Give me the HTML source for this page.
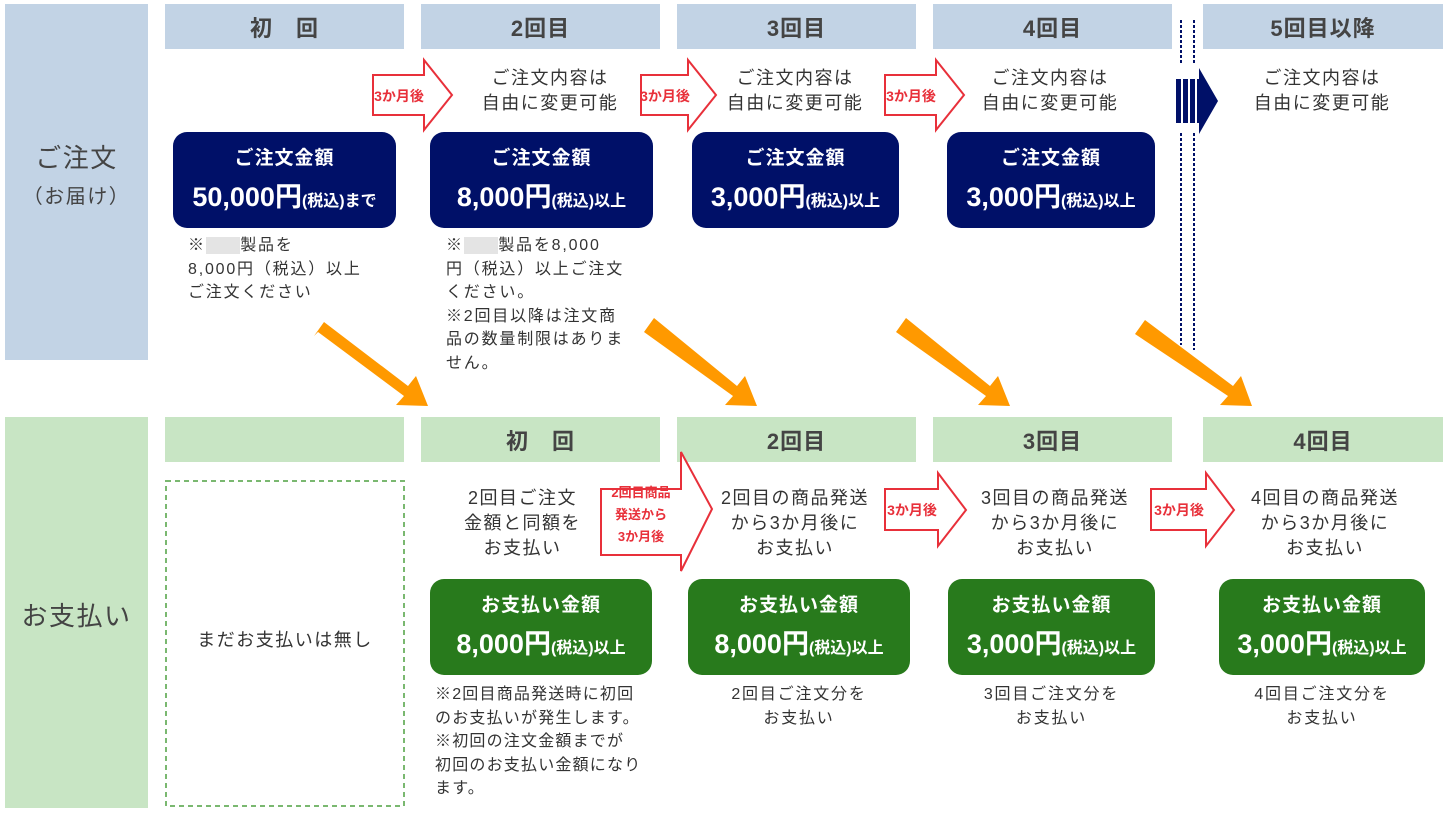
<!DOCTYPE html>
<html><head><meta charset="utf-8"><style>
*{margin:0;padding:0;box-sizing:border-box}
body{width:1454px;height:818px;background:#fff;position:relative;overflow:hidden;font-family:"Liberation Sans","Noto Sans CJK JP",sans-serif;color:#333}
.a{position:absolute}
.hb{background:#c2d3e5;height:45px;top:4px;font-size:22px;font-weight:bold;color:#444;display:flex;align-items:center;justify-content:center;letter-spacing:1px}
.hg{background:#c8e5c4;height:45px;top:417px;font-size:22px;font-weight:bold;color:#444;display:flex;align-items:center;justify-content:center;letter-spacing:1px}
.nb{background:#001068;border-radius:14px;color:#fff;text-align:center;font-weight:bold;top:132px;height:96px}
.gb{background:#287a1c;border-radius:14px;color:#fff;text-align:center;font-weight:bold;top:579px;height:96px}
.t1{font-size:19px;margin-top:15px;line-height:24px;letter-spacing:1px}
.t2{font-size:27px;margin-top:10px;line-height:32px;white-space:nowrap}
.t2 small{font-size:16px}
.c{text-align:center;font-size:18px;line-height:25px;color:#333;letter-spacing:1.5px}
.n{font-size:16px;line-height:23.5px;color:#333;letter-spacing:1.8px}
.r{font-size:14px;font-weight:bold;color:#e8303a;text-align:center;white-space:nowrap}
</style></head><body>
<div class="a" style="left:5px;top:4px;width:143px;height:356px;background:#c2d3e5"></div>
<div class="a c" style="left:5px;top:140px;width:143px;font-size:26px;line-height:36px;color:#444">ご注文<br><span style="font-size:20px">（お届け）</span></div>
<div class="a" style="left:5px;top:417px;width:143px;height:391px;background:#c8e5c4"></div>
<div class="a c" style="left:5px;top:598px;width:143px;font-size:26px;color:#444;line-height:36px">お支払い</div>

<div class="a hb" style="left:165px;width:239px">初　回</div>
<div class="a hb" style="left:421px;width:239px">2回目</div>
<div class="a hb" style="left:677px;width:239px">3回目</div>
<div class="a hb" style="left:933px;width:239px">4回目</div>
<div class="a hb" style="left:1203px;width:240px">5回目以降</div>

<div class="a hg" style="left:165px;width:239px"></div>
<div class="a hg" style="left:421px;width:239px">初　回</div>
<div class="a hg" style="left:677px;width:239px">2回目</div>
<div class="a hg" style="left:933px;width:239px">3回目</div>
<div class="a hg" style="left:1203px;width:240px">4回目</div>

<svg class="a" style="left:0;top:0" width="1454" height="818">
<g fill="#fff" stroke="#e8303a" stroke-width="2">
<polygon points="373,75 424,75 424,60 452,95 424,130 424,115 373,115"/>
<polygon points="641,75 688,75 688,60 716,95 688,130 688,115 641,115"/>
<polygon points="885,75 936,75 936,60 964,95 936,130 936,115 885,115"/>
<polygon points="601,489 681,489 681,452 712,509 681,571 681,555 601,555"/>
<polygon points="885,489 938,489 938,473 966,510 938,546 938,530 885,530"/>
<polygon points="1151,489 1206,489 1206,473 1234,510 1206,546 1206,530 1151,530"/>
</g>
<g fill="#ff9900">
<polygon points="314,336 324,322 408,386 416,376 428,406 396,405 404,396 318,332"/>
<polygon points="644,332 654,318 737,386 745,376 757,406 725,405 733,396"/>
<polygon points="896,332 906,318 990,386 998,376 1010,406 978,405 986,396"/>
<polygon points="1135,334 1145,320 1233,386 1241,376 1252,406 1220,405 1228,396"/>
</g>
<g stroke="#001068" stroke-width="2" stroke-dasharray="3,2">
<line x1="1181" y1="20" x2="1181" y2="64"/><line x1="1194" y1="20" x2="1194" y2="64"/>
<line x1="1181" y1="133" x2="1181" y2="345"/><line x1="1194" y1="133" x2="1194" y2="350"/>
</g>
<g fill="#001068">
<rect x="1176" y="79" width="5" height="44"/><rect x="1183" y="79" width="5" height="44"/><rect x="1190" y="79" width="5" height="44"/><rect x="1197" y="79" width="4" height="44"/>
<polygon points="1199,68 1218,101 1199,134"/>
</g>
<rect x="166" y="481" width="238" height="325" fill="none" stroke="#7ab870" stroke-width="2" stroke-dasharray="5,4"/>
</svg>

<div class="a r" style="left:372px;top:86px;width:54px">3か月後</div>
<div class="a r" style="left:639px;top:86px;width:52px">3か月後</div>
<div class="a r" style="left:884px;top:86px;width:54px">3か月後</div>
<div class="a r" style="left:600px;top:482px;width:82px;font-size:13px;line-height:22px">2回目商品<br>発送から<br>3か月後</div>
<div class="a r" style="left:884px;top:500px;width:56px">3か月後</div>
<div class="a r" style="left:1150px;top:500px;width:58px">3か月後</div>

<div class="a c" style="left:440px;top:66px;width:220px">ご注文内容は<br>自由に変更可能</div>
<div class="a c" style="left:685px;top:66px;width:220px">ご注文内容は<br>自由に変更可能</div>
<div class="a c" style="left:940px;top:66px;width:220px">ご注文内容は<br>自由に変更可能</div>
<div class="a c" style="left:1212px;top:66px;width:220px">ご注文内容は<br>自由に変更可能</div>

<div class="a nb" style="left:173px;width:223px"><div class="t1">ご注文金額</div><div class="t2">50,000円<small>(税込)まで</small></div></div>
<div class="a nb" style="left:430px;width:223px"><div class="t1">ご注文金額</div><div class="t2">8,000円<small>(税込)以上</small></div></div>
<div class="a nb" style="left:692px;width:207px"><div class="t1">ご注文金額</div><div class="t2">3,000円<small>(税込)以上</small></div></div>
<div class="a nb" style="left:947px;width:208px"><div class="t1">ご注文金額</div><div class="t2">3,000円<small>(税込)以上</small></div></div>

<div class="a n" style="left:188px;top:234px;width:210px">※<span style="color:#e4e4e4;background:#e4e4e4">■■■</span>製品を<br>8,000円（税込）以上<br>ご注文ください</div>
<div class="a n" style="left:446px;top:234px;width:215px">※<span style="color:#e4e4e4;background:#e4e4e4">■■■</span>製品を8,000<br>円（税込）以上ご注文<br>ください。<br>※2回目以降は注文商<br>品の数量制限はありま<br>せん。</div>

<div class="a c" style="left:450px;top:486px;width:145px">2回目ご注文<br>金額と同額を<br>お支払い</div>
<div class="a c" style="left:700px;top:486px;width:190px">2回目の商品発送<br>から3か月後に<br>お支払い</div>
<div class="a c" style="left:960px;top:486px;width:190px">3回目の商品発送<br>から3か月後に<br>お支払い</div>
<div class="a c" style="left:1230px;top:486px;width:190px">4回目の商品発送<br>から3か月後に<br>お支払い</div>

<div class="a c" style="left:166px;top:628px;width:238px">まだお支払いは無し</div>

<div class="a gb" style="left:430px;width:222px"><div class="t1">お支払い金額</div><div class="t2">8,000円<small>(税込)以上</small></div></div>
<div class="a gb" style="left:688px;width:222px"><div class="t1">お支払い金額</div><div class="t2">8,000円<small>(税込)以上</small></div></div>
<div class="a gb" style="left:948px;width:207px"><div class="t1">お支払い金額</div><div class="t2">3,000円<small>(税込)以上</small></div></div>
<div class="a gb" style="left:1219px;width:206px"><div class="t1">お支払い金額</div><div class="t2">3,000円<small>(税込)以上</small></div></div>

<div class="a n" style="left:435px;top:683px;width:240px;letter-spacing:1.2px">※2回目商品発送時に初回<br>のお支払いが発生します。<br>※初回の注文金額までが<br>初回のお支払い金額になり<br>ます。</div>
<div class="a n" style="left:688px;top:683px;width:222px;text-align:center">2回目ご注文分を<br>お支払い</div>
<div class="a n" style="left:948px;top:683px;width:207px;text-align:center">3回目ご注文分を<br>お支払い</div>
<div class="a n" style="left:1219px;top:683px;width:206px;text-align:center">4回目ご注文分を<br>お支払い</div>
</body></html>
